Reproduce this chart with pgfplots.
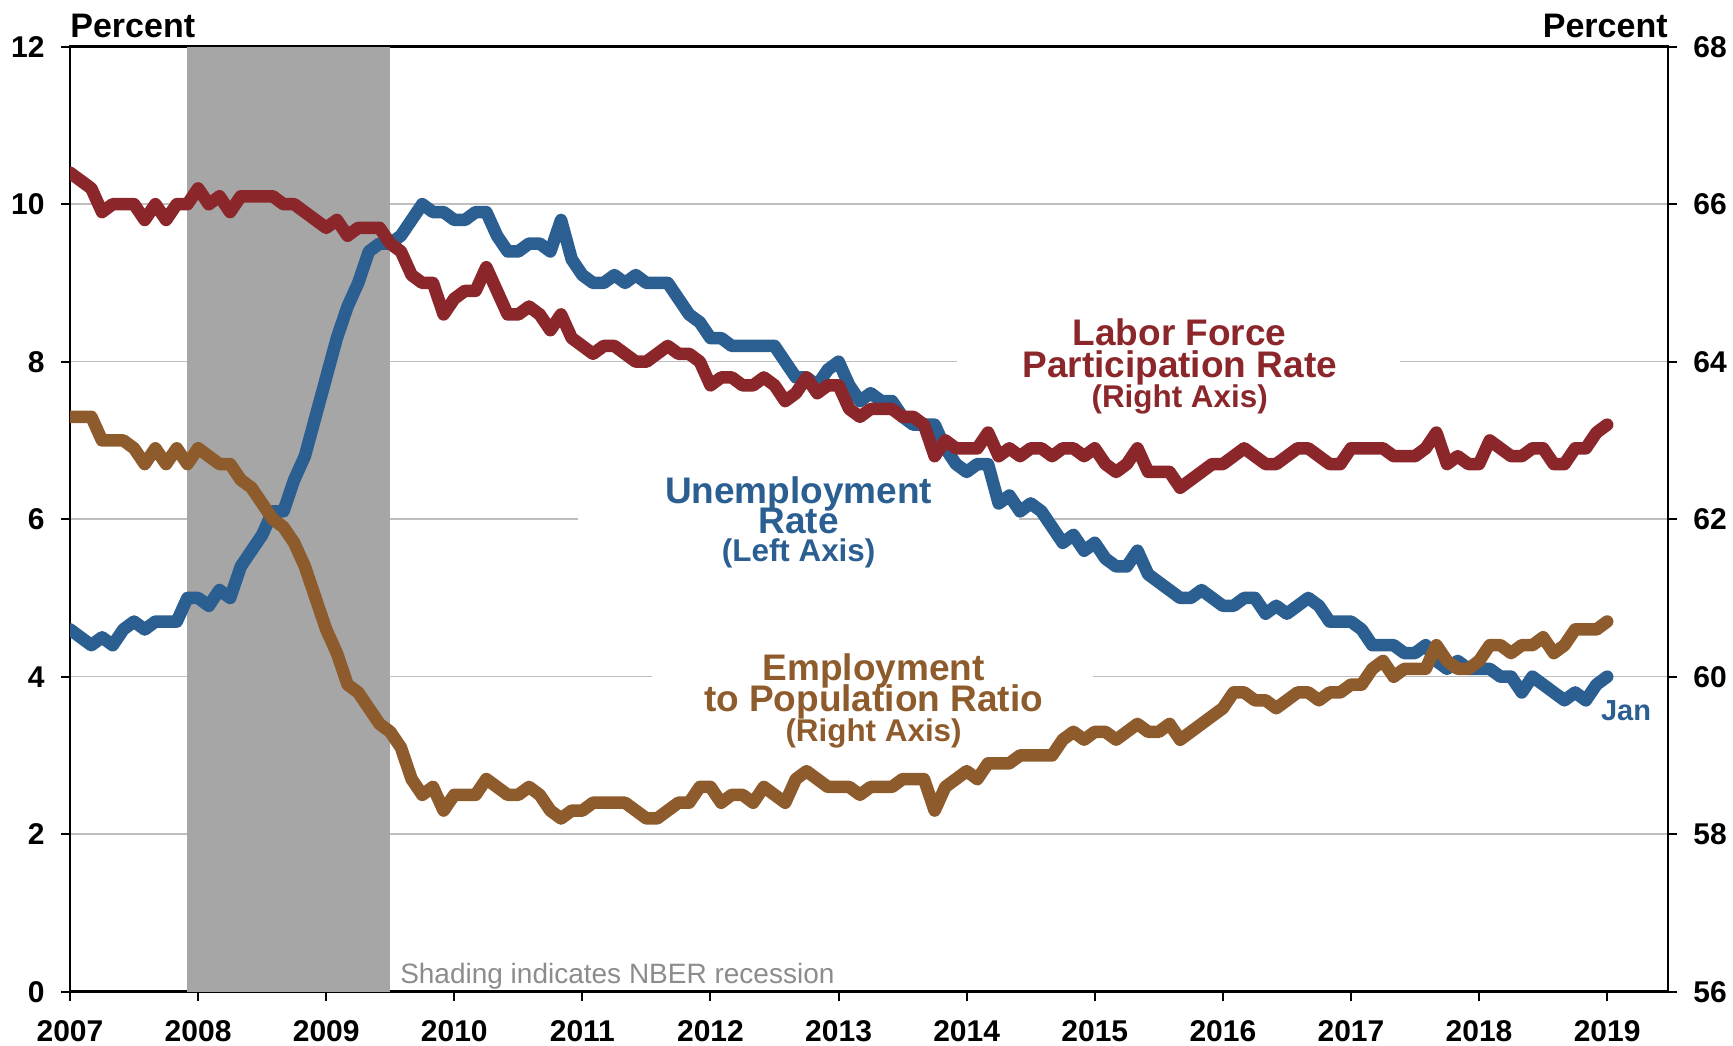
\documentclass[border=0pt]{standalone}
\usepackage{fontspec}
\setmainfont{Liberation Sans}
\usepackage{pgfplots}
\usepackage{pgfplotstable}
\pgfplotsset{compat=1.18}
\definecolor{urblue}{RGB}{43,94,145}
\definecolor{lfred}{RGB}{139,38,42}
\definecolor{epbrown}{RGB}{142,92,44}
\definecolor{recgray}{RGB}{166,166,166}
\definecolor{shadetxt}{RGB}{140,140,140}
\definecolor{gridc}{RGB}{190,190,190}
\newcommand\lab{\fontsize{18.5bp}{18.5bp}\selectfont\bfseries}
\newcommand\sublab{\fontsize{15.7bp}{15.7bp}\selectfont\bfseries}

\pgfplotstableread{
m ur lf ep
0 4.6 66.4 63.3
1 4.5 66.3 63.3
2 4.4 66.2 63.3
3 4.5 65.9 63.0
4 4.4 66.0 63.0
5 4.6 66.0 63.0
6 4.7 66.0 62.9
7 4.6 65.8 62.7
8 4.7 66.0 62.9
9 4.7 65.8 62.7
10 4.7 66.0 62.9
11 5.0 66.0 62.7
12 5.0 66.2 62.9
13 4.9 66.0 62.8
14 5.1 66.1 62.7
15 5.0 65.9 62.7
16 5.4 66.1 62.5
17 5.6 66.1 62.4
18 5.8 66.1 62.2
19 6.1 66.1 62.0
20 6.1 66.0 61.9
21 6.5 66.0 61.7
22 6.8 65.9 61.4
23 7.3 65.8 61.0
24 7.8 65.7 60.6
25 8.3 65.8 60.3
26 8.7 65.6 59.9
27 9.0 65.7 59.8
28 9.4 65.7 59.6
29 9.5 65.7 59.4
30 9.5 65.5 59.3
31 9.6 65.4 59.1
32 9.8 65.1 58.7
33 10.0 65.0 58.5
34 9.9 65.0 58.6
35 9.9 64.6 58.3
36 9.8 64.8 58.5
37 9.8 64.9 58.5
38 9.9 64.9 58.5
39 9.9 65.2 58.7
40 9.6 64.9 58.6
41 9.4 64.6 58.5
42 9.4 64.6 58.5
43 9.5 64.7 58.6
44 9.5 64.6 58.5
45 9.4 64.4 58.3
46 9.8 64.6 58.2
47 9.3 64.3 58.3
48 9.1 64.2 58.3
49 9.0 64.1 58.4
50 9.0 64.2 58.4
51 9.1 64.2 58.4
52 9.0 64.1 58.4
53 9.1 64.0 58.3
54 9.0 64.0 58.2
55 9.0 64.1 58.2
56 9.0 64.2 58.3
57 8.8 64.1 58.4
58 8.6 64.1 58.4
59 8.5 64.0 58.6
60 8.3 63.7 58.6
61 8.3 63.8 58.4
62 8.2 63.8 58.5
63 8.2 63.7 58.5
64 8.2 63.7 58.4
65 8.2 63.8 58.6
66 8.2 63.7 58.5
67 8.0 63.5 58.4
68 7.8 63.6 58.7
69 7.8 63.8 58.8
70 7.7 63.6 58.7
71 7.9 63.7 58.6
72 8.0 63.7 58.6
73 7.7 63.4 58.6
74 7.5 63.3 58.5
75 7.6 63.4 58.6
76 7.5 63.4 58.6
77 7.5 63.4 58.6
78 7.3 63.3 58.7
79 7.2 63.3 58.7
80 7.2 63.2 58.7
81 7.2 62.8 58.3
82 6.9 63.0 58.6
83 6.7 62.9 58.7
84 6.6 62.9 58.8
85 6.7 62.9 58.7
86 6.7 63.1 58.9
87 6.2 62.8 58.9
88 6.3 62.9 58.9
89 6.1 62.8 59.0
90 6.2 62.9 59.0
91 6.1 62.9 59.0
92 5.9 62.8 59.0
93 5.7 62.9 59.2
94 5.8 62.9 59.3
95 5.6 62.8 59.2
96 5.7 62.9 59.3
97 5.5 62.7 59.3
98 5.4 62.6 59.2
99 5.4 62.7 59.3
100 5.6 62.9 59.4
101 5.3 62.6 59.3
102 5.2 62.6 59.3
103 5.1 62.6 59.4
104 5.0 62.4 59.2
105 5.0 62.5 59.3
106 5.1 62.6 59.4
107 5.0 62.7 59.5
108 4.9 62.7 59.6
109 4.9 62.8 59.8
110 5.0 62.9 59.8
111 5.0 62.8 59.7
112 4.8 62.7 59.7
113 4.9 62.7 59.6
114 4.8 62.8 59.7
115 4.9 62.9 59.8
116 5.0 62.9 59.8
117 4.9 62.8 59.7
118 4.7 62.7 59.8
119 4.7 62.7 59.8
120 4.7 62.9 59.9
121 4.6 62.9 59.9
122 4.4 62.9 60.1
123 4.4 62.9 60.2
124 4.4 62.8 60.0
125 4.3 62.8 60.1
126 4.3 62.8 60.1
127 4.4 62.9 60.1
128 4.2 63.1 60.4
129 4.1 62.7 60.2
130 4.2 62.8 60.1
131 4.1 62.7 60.1
132 4.1 62.7 60.2
133 4.1 63.0 60.4
134 4.0 62.9 60.4
135 4.0 62.8 60.3
136 3.8 62.8 60.4
137 4.0 62.9 60.4
138 3.9 62.9 60.5
139 3.8 62.7 60.3
140 3.7 62.7 60.4
141 3.8 62.9 60.6
142 3.7 62.9 60.6
143 3.9 63.1 60.6
144 4.0 63.2 60.7
}\data

\begin{document}
\begin{tikzpicture}
\useasboundingbox (-35bp,-27.15bp) rectangle (831.5bp,495.85bp);
\pgfplotsset{common/.style={
  width=799bp, height=472.5bp, scale only axis,
  xmin=0, xmax=149.7,
  tick align=outside, major tick length=4.5bp,
  every tick/.style={black, line width=1bp},
  axis line style={black, line width=1.2bp},
  /pgf/number format/assume math mode=true,
  ticklabel style={font=\fontsize{15bp}{15bp}\selectfont\bfseries},
  datline/.style={line width=6.3bp, line join=round, line cap=round},
}}
\begin{axis}[common,
  ymin=0, ymax=12, ytick={0,2,4,6,8,10,12},
  xtick={0,12,24,36,48,60,72,84,96,108,120,132,144},
  xticklabels={2007,2008,2009,2010,2011,2012,2013,2014,2015,2016,2017,2018,2019},
  xtick pos=bottom, ytick pos=left,
  ymajorgrids, grid style={gridc, line width=0.8bp},
  yticklabel style={anchor=east, inner sep=0pt, xshift=-8bp},
  xticklabel style={anchor=base, inner sep=0pt, yshift=-20.2bp},
]
\fill[recgray] (axis cs:11,0) rectangle (axis cs:30,12);
\fill[white] (axis cs:83.1,7.25) rectangle (axis cs:124.6,8.55);
\fill[white] (axis cs:47.6,5.25) rectangle (axis cs:88.9,6.45);
\fill[white] (axis cs:54.5,3.0) rectangle (axis cs:95.8,4.25);
\addplot[urblue, datline] table[x=m, y=ur] {\data};
\node[anchor=base west, inner sep=0pt, text=shadetxt, font=\fontsize{14bp}{14bp}\selectfont] at (axis cs:30.9,0.107) {Shading indicates NBER recession};
\node[anchor=base, inner sep=0pt, text=lfred, font=\lab] at (axis cs:103.95,8.203) {Labor Force};
\node[anchor=base, inner sep=0pt, text=lfred, font=\lab] at (axis cs:103.95,7.802) {Participation Rate};
\node[anchor=base, inner sep=0pt, text=lfred, font=\sublab] at (axis cs:103.95,7.421) {(Right Axis)};
\node[anchor=base, inner sep=0pt, text=urblue, font=\lab] at (axis cs:68.26,6.202) {Unemployment};
\node[anchor=base, inner sep=0pt, text=urblue, font=\lab] at (axis cs:68.26,5.812) {Rate};
\node[anchor=base, inner sep=0pt, text=urblue, font=\sublab] at (axis cs:68.26,5.460) {(Left Axis)};
\node[anchor=base, inner sep=0pt, text=epbrown, font=\lab] at (axis cs:75.28,3.958) {Employment};
\node[anchor=base, inner sep=0pt, text=epbrown, font=\lab] at (axis cs:75.28,3.556) {to Population Ratio};
\node[anchor=base, inner sep=0pt, text=epbrown, font=\sublab] at (axis cs:75.28,3.175) {(Right Axis)};
\node[anchor=base, inner sep=0pt, text=urblue, font=\fontsize{14.5bp}{14.5bp}\selectfont\bfseries] at (axis cs:145.77,3.45) {Jan};
\end{axis}
\begin{axis}[common,
  ymin=56, ymax=68, ytick={56,58,60,62,64,66,68},
  axis y line*=right, axis x line=none,
  yticklabel style={anchor=west, inner sep=0pt, xshift=8bp},
]
\addplot[lfred, datline] table[x=m, y=lf] {\data};
\addplot[epbrown, datline] table[x=m, y=ep] {\data};
\end{axis}
\node[anchor=base west, inner sep=0pt, font=\fontsize{17bp}{17bp}\selectfont\bfseries] at (0bp,477.3bp) {Percent};
\node[anchor=base east, inner sep=0pt, font=\fontsize{17bp}{17bp}\selectfont\bfseries] at (799bp,477.3bp) {Percent};
\end{tikzpicture}
\end{document}
